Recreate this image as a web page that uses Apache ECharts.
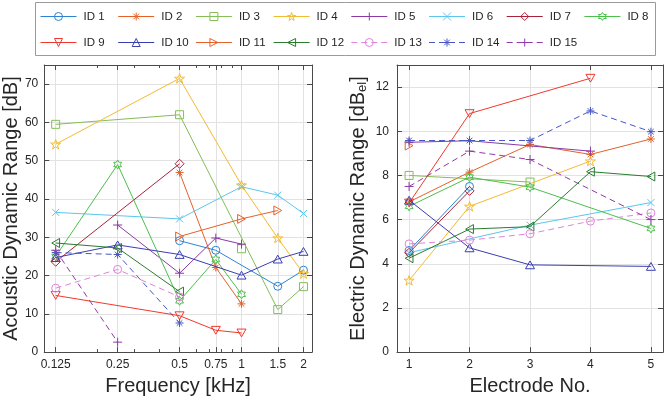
<!DOCTYPE html>
<html><head><meta charset="utf-8">
<script src="https://cdn.jsdelivr.net/npm/echarts@6/dist/echarts.min.js"></script>
<style>html,body{margin:0;padding:0;background:#fff}#c{width:666px;height:401px}</style>
</head><body><div id="c"></div>
<script>
// ---------- DATA ----------
const ids = ['ID 1','ID 2','ID 3','ID 4','ID 5','ID 6','ID 7','ID 8','ID 9','ID 10','ID 11','ID 12','ID 13','ID 14','ID 15'];
const freqs = [0.125, 0.25, 0.5, 0.75, 1, 1.5, 2];          // kHz
const freqTickLabels = [0.125, 0.25, 0.5, 0.75, 1, 1.5, 2];
const freqMinorTicks = [0.2, 0.3, 0.4, 0.6, 0.7, 0.8, 0.9];
const electrodes = [1, 2, 3, 4, 5];

// Acoustic dynamic range [dB], aligned with freqs (null = not measured)
const acoustic1  = [null, null, 29.1, 26.6, null, 17.2, 21.4];
const acoustic2  = [null, null, 46.9, 22.1, 12.6, null, null];
const acoustic3  = [59.5, null, 62.0, null, null, 11.1, 17.1];
const acoustic3Lone = [1, 27.0];   // isolated square at 1 kHz
const acoustic4  = [54.3, null, 71.5, null, 43.6, 29.8, 20.5];
const acoustic5  = [null, 33.2, 20.6, 29.8, 28.2, null, null];
const acoustic6  = [36.5, null, 34.8, null, 43.2, 41.0, 36.2];
const acoustic7  = [23.6, null, 49.2, null, null, null, null];
const acoustic8  = [25.0, 49.0, 13.4, 24.2, 15.1, null, null];
const acoustic9  = [14.8, null, 9.5, 5.7, 5.0, null, null];
const acoustic10 = [24.7, 28.0, 25.5, null, 20.1, 24.3, 26.3];
const acoustic11 = [null, null, 30.2, null, 34.8, 37.0, null];
const acoustic12 = [28.5, 27.2, 15.8, null, null, null, null];
const acoustic13 = [16.7, 21.6, 14.4, null, null, null, null];
const acoustic14 = [26.0, 25.5, 7.6, null, null, null, null];
const acoustic15 = [26.6, 2.6, null, null, null, null, null];

// Electric dynamic range [dB_el], aligned with electrodes
const electric1  = [4.6, 7.5, null, null, null];
const electric2  = [6.8, 8.15, 9.4, 8.95, 9.65];
const electric3  = [8.0, null, 7.7, null, null];
const electric4  = [3.25, 6.6, null, 8.65, null];
const electric5  = [9.5, 9.57, null, 9.1, null];
const electric6  = [4.5, null, 5.75, null, 6.77];
const electric7  = [4.5, 7.3, null, null, null];
const electric8  = [6.6, 7.92, 7.47, null, 5.6];
const electric9  = [6.75, 10.8, null, 12.4, null];
const electric10 = [6.88, 4.72, 3.95, null, 3.88];
const electric11 = [9.35, null, null, null, null];
const electric12 = [4.25, 5.57, 5.68, 8.17, 7.95];
const electric13 = [4.9, 5.07, 5.36, 5.93, 6.3];
const electric14 = [9.58, 9.58, 9.58, 10.92, 9.98];
const electric15 = [7.5, 9.1, 8.72, null, 6.0];

const acoustic = [acoustic1,acoustic2,acoustic3,acoustic4,acoustic5,acoustic6,acoustic7,acoustic8,acoustic9,acoustic10,acoustic11,acoustic12,acoustic13,acoustic14,acoustic15];
const electric = [electric1,electric2,electric3,electric4,electric5,electric6,electric7,electric8,electric9,electric10,electric11,electric12,electric13,electric14,electric15];

// ---------- STYLE ----------
const MK = {
  circle: 'path://M1,0A1,1,0,1,1,-1,0A1,1,0,1,1,1,0Z',
  asterisk: 'path://M0,-1L0,1M-1,0L1,0M-0.7,-0.7L0.7,0.7M-0.7,0.7L0.7,-0.7',
  square: 'path://M-1,-1L1,-1L1,1L-1,1Z',
  pentagram: 'path://M0,-1L0.2245,-0.309L0.951,-0.309L0.3633,0.118L0.5878,0.809L0,0.382L-0.5878,0.809L-0.3633,0.118L-0.951,-0.309L-0.2245,-0.309Z',
  plus: 'path://M0,-1L0,1M-1,0L1,0',
  cross: 'path://M-1,-1L1,1M-1,1L1,-1',
  diamond: 'path://M0,-1L1,0L0,1L-1,0Z',
  hexagram: 'path://M0,-1L0.2887,-0.5L0.866,-0.5L0.577,0L0.866,0.5L0.2887,0.5L0,1L-0.2887,0.5L-0.866,0.5L-0.577,0L-0.866,-0.5L-0.2887,-0.5Z',
  triDown: 'path://M-1,-0.866L1,-0.866L0,0.866Z',
  triUp: 'path://M0,-0.866L1,0.866L-1,0.866Z',
  triRight: 'path://M-0.866,-1L0.866,0L-0.866,1Z',
  triLeft: 'path://M0.866,-1L-0.866,0L0.866,1Z'
};
const seriesStyle = [
  {c:'#2b84d4', m:MK.circle, s:8},
  {c:'#e4612c', m:MK.asterisk, s:8},
  {c:'#86bd58', m:MK.square, s:8},
  {c:'#f2bb32', m:MK.pentagram, s:10},
  {c:'#8a3aa6', m:MK.plus, s:9},
  {c:'#5cc6ef', m:MK.cross, s:7},
  {c:'#a8233a', m:MK.diamond, s:9},
  {c:'#4cbf4c', m:MK.hexagram, s:9},
  {c:'#f2382c', m:MK.triDown, s:9},
  {c:'#3a3fb0', m:MK.triUp, s:9},
  {c:'#e4612c', m:MK.triRight, s:9},
  {c:'#2a7d2f', m:MK.triLeft, s:9},
  {c:'#dd86d8', m:MK.circle, s:8, dash:true},
  {c:'#4656c4', m:MK.asterisk, s:8, dash:true},
  {c:'#8f3aa8', m:MK.plus, s:9, dash:true}
];
const FONT = '"Liberation Sans", Arial, Helvetica, sans-serif';
const AX = '#4a4a4a', GRID = '#e2e2e2', TXT = '#262626';

function pairs(xs, vals) {
  const out = [];
  vals.forEach((v, i) => { if (v !== null) out.push([xs[i], v]); });
  return out;
}
function mkSeries(k, data, xi, yi) {
  const st = seriesStyle[k];
  return {
    name: ids[k], type: 'line', xAxisIndex: xi, yAxisIndex: yi,
    data: data, symbol: st.m, symbolSize: st.s, symbolKeepAspect: true,
    showSymbol: true, connectNulls: false, animation: false,
    color: st.c,
    lineStyle: {color: st.c, width: 1, type: st.dash ? [6, 4] : 'solid'},
    itemStyle: {color: 'none', borderColor: st.c, borderWidth: 1},
    emphasis: {disabled: true}, z: 3 + k
  };
}
const series = [];
for (let k = 0; k < 15; k++) {
  let d = pairs(freqs, acoustic[k]);
  if (k === 2) { d.push([acoustic3Lone[0], '-']); d.push(acoustic3Lone.slice()); }
  series.push(mkSeries(k, d, 0, 0));
  series.push(mkSeries(k, pairs(electrodes, electric[k]), 4, 2));
}

const legends = ids.map((name, k) => {
  const row = k < 8 ? 0 : 1, col = k < 8 ? k : k - 8;
  const st = seriesStyle[k];
  return {
    data: [name], left: 40 + 77.7 * col, top: row === 0 ? 10 : 36, padding: 0,
    itemWidth: 36, itemHeight: 10, itemGap: 0, selectedMode: false,
    itemStyle: {color: 'none', borderColor: st.c, borderWidth: 1},
    lineStyle: {color: st.c, width: 1},
    textStyle: {fontSize: 11.5, color: TXT, fontFamily: FONT, padding: [0,0,0,2]}
  };
});

const tickX = (vals, len) => ({show: true, inside: true, length: len, customValues: vals, lineStyle: {color: AX, width: 1}});
function logX(pos, vals, len, line) {
  return {gridIndex: 0, type: 'log', logBase: 10, min: 0.11, max: 2.2, position: pos,
    axisLine: {show: line, onZero: false, lineStyle: {color: AX}},
    axisTick: tickX(vals, len), axisLabel: {show: false}, splitLine: {show: false},
    minorTick: {show: false}, minorSplitLine: {show: false}, silent: true};
}

const option = {
  animation: false,
  backgroundColor: '#fff',
  textStyle: {fontFamily: FONT},
  grid: [
    {left: 43, top: 65, width: 269, height: 293},
    {left: 397, top: 65, width: 266, height: 293}
  ],
  legend: legends,
  graphic: [{type: 'rect', shape: {x: 35.5, y: 2.5, width: 620, height: 53}, style: {fill: 'none', stroke: '#9a9a9a', lineWidth: 1}, z: -1}],
  xAxis: [
    Object.assign(logX('bottom', freqTickLabels, 5, true), {
      axisLabel: {show: true, customValues: freqTickLabels, formatter: v => String(+(+v).toPrecision(3)), color: TXT, fontSize: 12, margin: 7, fontFamily: FONT},
      splitLine: {show: true, lineStyle: {color: GRID, width: 1}},
      name: 'Frequency [kHz]', nameLocation: 'middle', nameGap: 20,
      nameTextStyle: {fontSize: 20, color: TXT, fontFamily: FONT}
    }),
    logX('top', freqTickLabels, 5, true),
    logX('bottom', freqMinorTicks, 3, false),
    logX('top', freqMinorTicks, 3, false),
    {gridIndex: 1, type: 'value', min: 0.8, max: 5.2, position: 'bottom',
      axisLine: {show: true, onZero: false, lineStyle: {color: AX}},
      axisTick: tickX(electrodes, 5),
      axisLabel: {show: true, customValues: electrodes, color: TXT, fontSize: 12, margin: 7, fontFamily: FONT},
      splitLine: {show: true, lineStyle: {color: GRID, width: 1}},
      name: 'Electrode No.', nameLocation: 'middle', nameGap: 20,
      nameTextStyle: {fontSize: 20, color: TXT, fontFamily: FONT}},
    {gridIndex: 1, type: 'value', min: 0.8, max: 5.2, position: 'top',
      axisLine: {show: true, onZero: false, lineStyle: {color: AX}},
      axisTick: tickX(electrodes, 5), axisLabel: {show: false}, splitLine: {show: false}}
  ],
  yAxis: [
    {gridIndex: 0, type: 'value', min: 0, max: 75, interval: 10, position: 'left',
      axisLine: {show: true, onZero: false, lineStyle: {color: AX}},
      axisTick: {show: true, inside: true, length: 5, lineStyle: {color: AX}},
      axisLabel: {color: TXT, fontSize: 12, margin: 6, fontFamily: FONT, showMaxLabel: false},
      splitLine: {show: true, lineStyle: {color: GRID, width: 1}},
      name: 'Acoustic Dynamic Range [dB]', nameLocation: 'middle', nameGap: 21,
      nameTextStyle: {fontSize: 20, color: TXT, fontFamily: FONT}},
    {gridIndex: 0, type: 'value', min: 0, max: 75, interval: 10, position: 'right',
      axisLine: {show: true, onZero: false, lineStyle: {color: AX}},
      axisTick: {show: true, inside: true, length: 5, lineStyle: {color: AX}},
      axisLabel: {show: false}, splitLine: {show: false}},
    {gridIndex: 1, type: 'value', min: 0, max: 13, interval: 2, position: 'left',
      axisLine: {show: true, onZero: false, lineStyle: {color: AX}},
      axisTick: {show: true, inside: true, length: 5, lineStyle: {color: AX}},
      axisLabel: {color: TXT, fontSize: 12, margin: 8, fontFamily: FONT, showMaxLabel: false},
      splitLine: {show: true, lineStyle: {color: GRID, width: 1}},
      name: 'Electric Dynamic Range [dB{s|el}]', nameLocation: 'middle', nameGap: 28,
      nameTextStyle: {fontSize: 20, color: TXT, fontFamily: FONT,
        rich: {s: {fontSize: 13, color: TXT, fontFamily: FONT, verticalAlign: 'bottom', padding: [9, 0, 0, 0]}}}},
    {gridIndex: 1, type: 'value', min: 0, max: 13, interval: 2, position: 'right',
      axisLine: {show: true, onZero: false, lineStyle: {color: AX}},
      axisTick: {show: true, inside: true, length: 5, lineStyle: {color: AX}},
      axisLabel: {show: false}, splitLine: {show: false}}
  ],
  series: series
};
const chart = echarts.init(document.getElementById('c'));
chart.setOption(option);
</script>
</body></html>
